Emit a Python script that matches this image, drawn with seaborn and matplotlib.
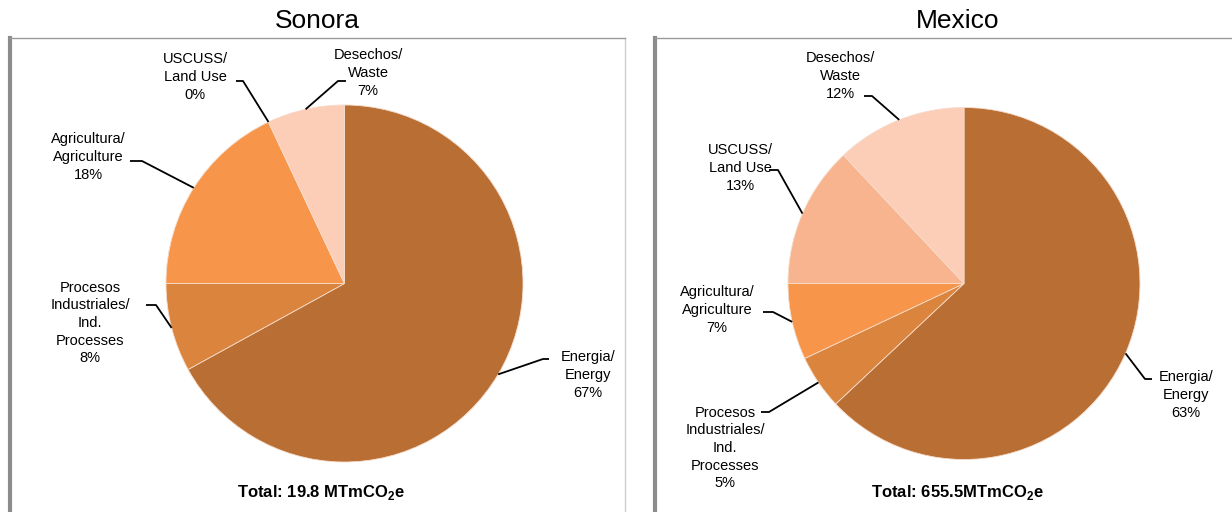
import numpy as np
import matplotlib
matplotlib.use("Agg")
import matplotlib.pyplot as plt
import seaborn as sns

# data
categories = ["Energia/\nEnergy", "Procesos\nIndustriales/\nInd.\nProcesses",
              "Agricultura/\nAgriculture", "USCUSS/\nLand Use", "Desechos/\nWaste"]
sonora_pct = [67, 8, 18, 0, 7]
mexico_pct = [63, 5, 7, 13, 12]
regions = ["Sonora", "Mexico"]
totals = ["Total: 19.8 MTmCO$_\\mathbf{2}$e", "Total: 655.5MTmCO$_\\mathbf{2}$e"]
colors = ["#B96E34", "#DB843E", "#F7964A", "#F8B48F", "#FCCDB7"]

sns.set_theme(style="white")
plt.rcParams["font.family"] = ["Liberation Sans", "DejaVu Sans"]
plt.rcParams["mathtext.fontset"] = "custom"
plt.rcParams["mathtext.bf"] = "Liberation Sans:bold"
plt.rcParams["mathtext.rm"] = "Liberation Sans"
plt.rcParams["text.color"] = "black"

W, H = 1232, 512
fig = plt.figure(figsize=(W / 100, H / 100), dpi=100)

# panel frames (pixel boxes: left, top, right)
frames = [(10, 38, 625), (655, 38, 1240)]
for left, top, right in frames:
    fa = fig.add_axes([left / W, 0, (right - left) / W, (H - top) / H])
    fa.set_xticks([])
    fa.set_yticks([])
    fa.spines["bottom"].set_visible(False)
    fa.spines["left"].set_color("#8c8c8c")
    fa.spines["left"].set_linewidth(3)
    fa.spines["top"].set_color("#9a9a9a")
    fa.spines["top"].set_linewidth(1)
    fa.spines["right"].set_color("#cfcfcf")
    fa.spines["right"].set_linewidth(1)

ax = fig.add_axes([0, 0, 1, 1])
ax.set_axis_off()

# layout: pie centre/radius, title x, label centres and leader elbows (pixels, y down)
layout = {
    "Sonora": dict(
        center=(344.5, 283.5), radius=178.5, title_x=317, total_x=321,
        text=[(588, 375), (90, 323), (88, 157), (195, 77), (368, 73)],
        elbow=[((543, 359), (549, 359)), ((156, 305), (146, 305)),
               ((142, 161), (130, 161)), ((243, 81), (236, 81)),
               ((338, 81), (346, 81))],
    ),
    "Mexico": dict(
        center=(964, 283.5), radius=176, title_x=958, total_x=957,
        text=[(1186, 395), (725, 448), (717, 310), (740, 168), (840, 76)],
        elbow=[((1145, 379), (1152, 379)), ((769, 412), (761, 412)),
               ((773, 312), (763, 312)), ((778, 170), (769, 170)),
               ((872, 96), (864, 96))],
    ),
}

for region, pct, total in zip(regions, [sonora_pct, mexico_pct], totals):
    lay = layout[region]
    cx, cy = lay["center"]
    r = lay["radius"]
    wedges, _ = ax.pie(pct, colors=colors, startangle=90, counterclock=False,
                       center=(cx, H - cy), radius=r,
                       wedgeprops=dict(edgecolor="#f6dccb", linewidth=0.6))
    for i, w in enumerate(wedges):
        mid = np.deg2rad((w.theta1 + w.theta2) / 2)
        ex, ey = cx + r * np.cos(mid), cy - r * np.sin(mid)
        (bx, by), (tx, ty) = lay["elbow"][i]
        ax.plot([ex, bx, tx], [H - ey, H - by, H - ty], color="black", lw=1.3,
                solid_capstyle="butt")
        lx, ly = lay["text"][i]
        ax.text(lx, H - ly, f"{categories[i]}\n{pct[i]}%", ha="center", va="center",
                fontsize=10.5, linespacing=1.33, color="black")
    ax.text(lay["title_x"], H - 21, region, ha="center", va="center", fontsize=19,
            color="black")
    ax.text(lay["total_x"], H - 492, total, ha="center", va="center",
            fontsize=12, fontweight="bold", color="black")

ax.set_xlim(0, W)
ax.set_ylim(0, H)
ax.set_aspect("auto")

fig.savefig("out.png", dpi=100)
